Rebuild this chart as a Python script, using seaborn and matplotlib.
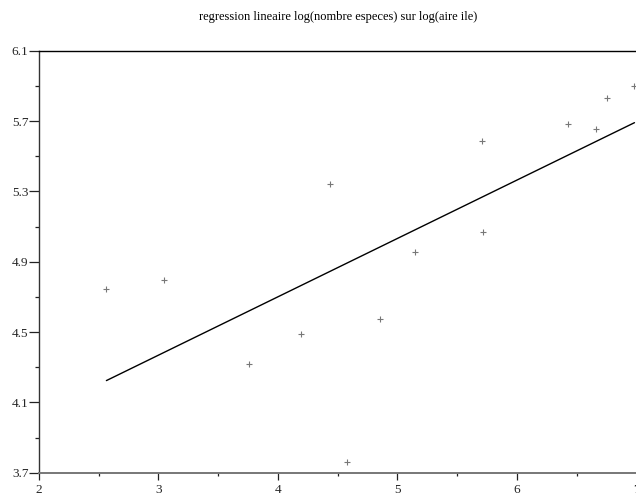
import numpy as np
import matplotlib
matplotlib.use('Agg')
import matplotlib.pyplot as plt
import seaborn as sns
from matplotlib.ticker import FixedLocator, FormatStrFormatter

# valeurs : log(aire ile), log(nombre especes)
log_aire = [2.564, 3.044, 4.431, 5.149, 4.853, 4.192, 3.761,
            4.577, 5.710, 5.716, 6.428, 6.659, 6.749, 6.983]
log_especes = [4.747, 4.798, 5.344, 4.957, 4.576, 4.491, 4.320,
               3.763, 5.585, 5.071, 5.682, 5.657, 5.833, 5.901]

x_ticks = [2, 3, 4, 5, 6, 7]
x_minor = [2.5, 3.5, 4.5, 5.5, 6.5]
y_ticks = [3.7, 4.1, 4.5, 4.9, 5.3, 5.7, 6.1]
y_minor = [3.9, 4.3, 4.7, 5.1, 5.5, 5.9]

titre = 'regression lineaire log(nombre especes) sur log(aire ile)'

sns.set_theme(style='white')
plt.rcParams['font.family'] = ['Liberation Serif', 'DejaVu Serif']

fig = plt.figure(figsize=(6.36, 4.99), dpi=100)
ax = fig.add_axes([0.0613, 0.0527, 0.9395, 0.8457])

sns.regplot(x=np.array(log_aire), y=np.array(log_especes), ax=ax, ci=None,
            marker='+',
            scatter_kws={'s': 16, 'color': '#555555', 'linewidths': 0.8},
            line_kws={'color': 'black', 'linewidth': 1.0})

ax.set_xlim(x_ticks[0], x_ticks[-1])
ax.set_ylim(y_ticks[0], y_ticks[-1])
ax.xaxis.set_major_locator(FixedLocator(x_ticks))
ax.xaxis.set_minor_locator(FixedLocator(x_minor))
ax.yaxis.set_major_locator(FixedLocator(y_ticks))
ax.yaxis.set_minor_locator(FixedLocator(y_minor))
ax.yaxis.set_major_formatter(FormatStrFormatter('%.1f'))
ax.xaxis.set_major_formatter(FormatStrFormatter('%d'))

ax.tick_params(axis='y', which='major', direction='out', length=7, width=0.9,
               pad=0.5, labelsize=9.5, color='#222222', left=True)
ax.tick_params(axis='y', which='minor', direction='out', length=3, width=0.9,
               color='#222222', left=True)
ax.tick_params(axis='x', which='major', direction='out', length=4.8, width=0.9,
               pad=3, labelsize=9.5, color='#222222', bottom=True)
ax.tick_params(axis='x', which='minor', direction='out', length=2.4, width=0.9,
               color='#222222', bottom=True)

ax.spines['right'].set_visible(False)
ax.spines['top'].set_color('black')
ax.spines['top'].set_linewidth(1.0)
ax.spines['left'].set_color('#333333')
ax.spines['left'].set_linewidth(1.0)
ax.spines['bottom'].set_color('#777777')
ax.spines['bottom'].set_linewidth(1.4)

ax.set_xlabel('')
ax.set_ylabel('')
ax.set_title(titre, fontsize=9, pad=22, color='black')

fig.savefig('out.png', dpi=100)
